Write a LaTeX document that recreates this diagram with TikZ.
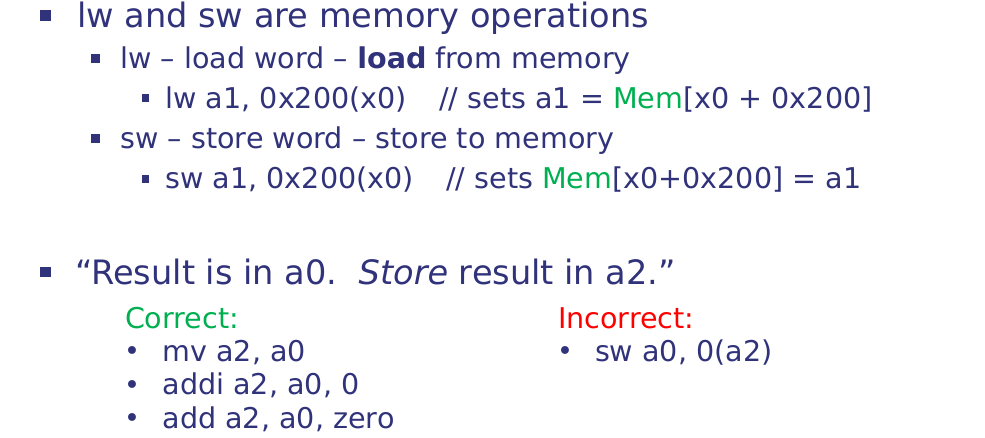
\documentclass[tikz,border=0pt]{standalone}
\usepackage{fontspec}
\setmainfont{DejaVu Sans}
\definecolor{navy}{RGB}{48,50,122}
\definecolor{okgreen}{RGB}{0,176,80}
\definecolor{badred}{RGB}{255,0,0}
\begin{document}
\begin{tikzpicture}[x=1pt,y=-1pt,
  txt/.style={anchor=base west,inner sep=0pt,outer sep=0pt,text=navy},
  big/.style={txt,font=\fontsize{33.6}{38}\selectfont},
  mid/.style={txt,font=\fontsize{28.6}{33}\selectfont},
  dot/.style={txt,font=\fontsize{27}{30}\selectfont},
  sq/.style={fill=navy,draw=none}]
\useasboundingbox (0,0) rectangle (985,437);
% level 1
\fill[navy] (40,10) rectangle (51,21);
\node[big] (l1) at (77,27.3) {lw and sw are memory operations};
% level 2
\fill[navy] (91,53.5) rectangle (99.5,62.5);
\node[mid] (l2) at (120.5,68) {lw – load word – \textbf{load} from memory};
\fill[navy] (142,94) rectangle (148.5,101.5);
\node[mid] (l3) at (165.5,108) {lw a1, 0x200(x0)\ \ \ \hspace{5pt}// sets a1 = \textcolor{okgreen}{Mem}[x0 + 0x200]};
\fill[navy] (91,133.5) rectangle (99.5,142.5);
\node[mid] (l4) at (120.5,148.3) {sw – store word – store to memory};
\fill[navy] (142,175) rectangle (148.5,182.5);
\node[mid] (l5) at (165.5,188.3) {sw a1, 0x200(x0)\ \ \ \hspace{5pt}// sets \textcolor{okgreen}{Mem}[x0+0x200] = a1};
% result
\fill[navy] (40,266.5) rectangle (51,277);
\node[big] (l6) at (75,284) {“Result is in a0.\ \ \textit{Store} result in a2.”};
% correct
\node[mid,text=okgreen] (cor) at (125,328) {Correct:};
\node[dot] (c1b) at (124,360.5) {•};
\node[mid] (c1) at (162.5,361) {mv a2, a0};
\node[dot] (c2b) at (124,394) {•};
\node[mid] (c2) at (162.5,394.5) {addi a2, a0, 0};
\node[dot] (c3b) at (124,427.5) {•};
\node[mid] (c3) at (162.5,428) {add a2, a0, zero};
% incorrect
\node[mid,text=badred] (inc) at (558,328) {Incorrect:};
\node[dot] (i1b) at (557,360.5) {•};
\node[mid] (i1) at (595,361) {sw a0, 0(a2)};
\end{tikzpicture}
\end{document}
